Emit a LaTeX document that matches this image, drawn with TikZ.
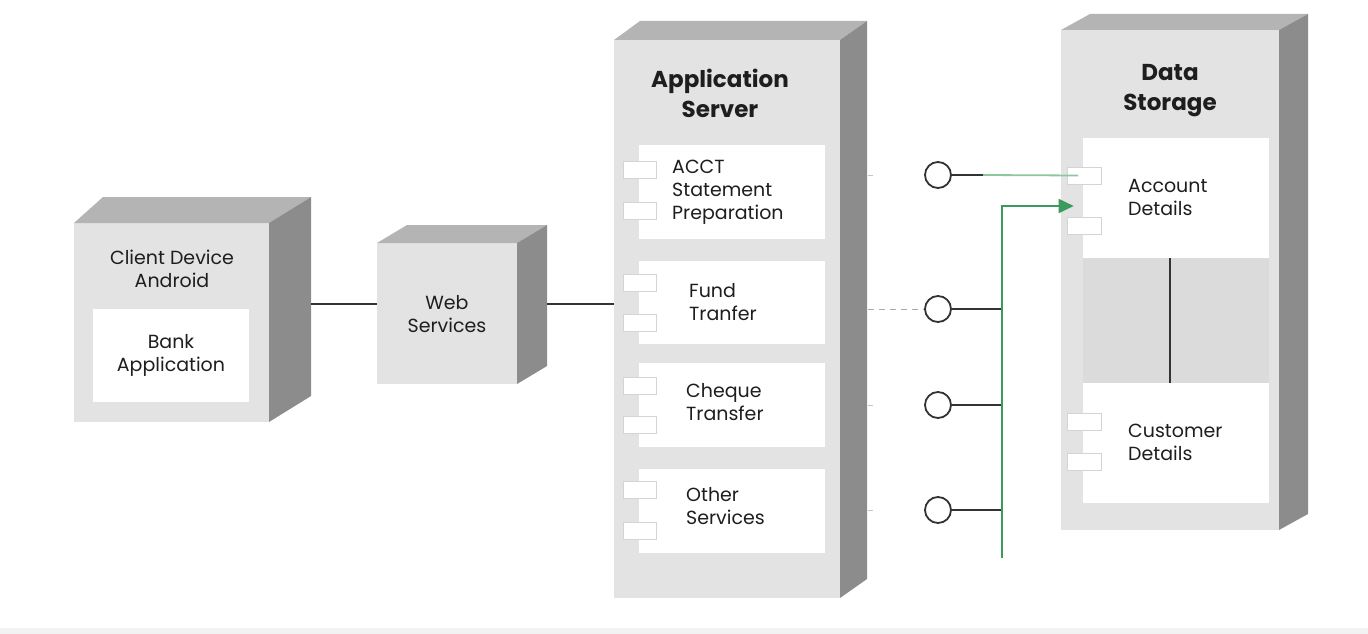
\documentclass[tikz,border=0pt]{standalone}
\usepackage{fontspec}
\setmainfont{Poppins}
\usetikzlibrary{calc,arrows.meta}
\definecolor{frontc}{HTML}{E3E3E3}
\definecolor{topc}{HTML}{B4B4B4}
\definecolor{sidec}{HTML}{8C8C8C}
\definecolor{bandc}{HTML}{DBDBDB}
\definecolor{linec}{HTML}{333333}
\definecolor{greenc}{HTML}{3A9B5C}
\definecolor{lgreenc}{HTML}{8CC79E}
\definecolor{txtc}{HTML}{1E1E1E}
\definecolor{portc}{HTML}{D4D4D4}
\definecolor{dashc}{HTML}{AAAAAA}
\newcommand\cubefaces[4]{%
  \fill[topc] (#1.north west) -- ++(#2,-#4) -- ($(#1.north east)+(#3,-#4)$) -- (#1.north east) -- cycle;
  \fill[sidec] (#1.north east) -- ($(#1.north east)+(#3,-#4)$) -- ($(#1.south east)+(#3,-#4)$) -- (#1.south east) -- cycle;
}
\tikzset{
  front/.style={fill=frontc, inner sep=0, outer sep=0, draw=none},
  innerbox/.style={fill=white, inner sep=0, outer sep=0, draw=none},
  port/.style={fill=white, draw=portc, line width=0.6pt, minimum width=33, minimum height=17, inner sep=0},
  lbl/.style={text=txtc, font=\fontsize{19}{23}\selectfont, inner sep=0},
  ttl/.style={text=txtc, font=\fontsize{23}{30}\selectfont\bfseries, inner sep=0, align=center},
  conn/.style={draw=linec, line width=1.8pt},
  iface/.style={circle, draw=linec, line width=1.8pt, fill=white, minimum size=26, inner sep=0},
  grn/.style={draw=greenc, line width=1.8pt},
}
\begin{document}
\begin{tikzpicture}[x=1pt, y=-1pt]
\useasboundingbox (0,0) rectangle (1368,634);
\fill[white] (0,0) rectangle (1368,634);
\fill[black!5] (0,628) rectangle (1368,634);

% ---------- cubes (front faces) ----------
\node[front, minimum width=195, minimum height=199] (client) at (171.5,322.5) {};
\cubefaces{client}{29}{42}{26}
\node[front, minimum width=140, minimum height=141] (web) at (447,313.5) {};
\cubefaces{web}{30}{30}{18}
\node[front, minimum width=226, minimum height=558] (app) at (727,319) {};
\cubefaces{app}{26}{27}{19}
\node[front, minimum width=218, minimum height=500] (data) at (1170,280) {};
\cubefaces{data}{29}{29}{16}

% ---------- client ----------
\node[lbl, align=center] (clientT) at (172,269) {Client Device\\Android};
\node[innerbox, minimum width=156, minimum height=93] (bank) at (171,355.5) {};
\node[lbl, align=center] (bankT) at (bank.center) {Bank\\Application};

% ---------- web ----------
\node[lbl, align=center] (webT) at (447,314) {Web\\Services};

% ---------- application server ----------
\node[ttl] (appT) at (720,93) {Application\\Server};
\node[innerbox, minimum width=186, minimum height=94] (acct) at (732,192) {};
\node[innerbox, minimum width=186, minimum height=83] (fund) at (732,302.5) {};
\node[innerbox, minimum width=186, minimum height=84] (cheque) at (732,405) {};
\node[innerbox, minimum width=186, minimum height=84] (other) at (732,511) {};
\node[port] (p1a) at (639.5,170) {};
\node[port] (p1b) at (639.5,210.5) {};
\node[port] (p2a) at (639.5,282.5) {};
\node[port] (p2b) at (639.5,322.5) {};
\node[port] (p3a) at (639.5,385.5) {};
\node[port] (p3b) at (639.5,425) {};
\node[port] (p4a) at (639.5,490) {};
\node[port] (p4b) at (639.5,530.5) {};
\node[lbl, align=left, anchor=west] (acctT) at (672,192) {ACCT\\Statement\\Preparation};
\node[lbl, align=left, anchor=west] (fundT) at (689,302) {Fund\\Tranfer};
\node[lbl, align=left, anchor=west] (chequeT) at (686,402) {Cheque\\Transfer};
\node[lbl, align=left, anchor=west] (otherT) at (686,506) {Other\\Services};

% ---------- data storage ----------
\node[ttl] (dataT) at (1170,91) {Data\\Storage};
\node[innerbox, fill=bandc, minimum width=186, minimum height=125] (band) at (1176,320.5) {};
\node[innerbox, minimum width=186, minimum height=120] (account) at (1176,198) {};
\node[innerbox, minimum width=186, minimum height=120] (customer) at (1176,443) {};
\node[port, minimum width=34] (q1a) at (1084,175.5) {};
\node[port, minimum width=34] (q1b) at (1084,225.5) {};
\node[port, minimum width=34] (q2a) at (1084,421.5) {};
\node[port, minimum width=34] (q2b) at (1084,462) {};
\node[lbl, align=left, anchor=west] (accountT) at (1128,198) {Account\\Details};
\node[lbl, align=left, anchor=west] (customerT) at (1128,442) {Customer\\Details};
\coordinate (vl) at (1170,0);
\draw[conn] (account.south -| vl) -- (customer.north -| vl);

% ---------- connectors left ----------
\coordinate (cside) at (311,304);
\coordinate (wside) at (547,304);
\draw[conn] (cside) -- (cside -| web.west);
\draw[conn] (wside) -- (wside -| app.west);

% ---------- interfaces ----------
\node[iface] (i1) at (938,175) {};
\node[iface] (i2) at (938,309) {};
\node[iface] (i3) at (938,405) {};
\node[iface] (i4) at (938,510) {};
\coordinate (sx) at (868,0);
\draw[dashc, line width=1pt, dash pattern=on 6pt off 5pt] (i2.west -| sx) -- (i2.west);
\foreach \n in {i1,i3,i4}{\draw[dashc!70, line width=1pt] (\n.west -| sx) -- ++(5,0);}

\coordinate (gx) at (1002,0);
\coordinate (gbot) at (1002,558);
\coordinate (mix) at (983,0);
\draw[conn] (i2.east) -- (i2.east -| gx);
\draw[conn] (i3.east) -- (i3.east -| gx);
\draw[conn] (i4.east) -- (i4.east -| gx);
\draw[conn] (i1.east) -- (i1.east -| mix);
\draw[draw=lgreenc, line width=1.8pt] (i1.east -| mix) -- ($(q1a.center)+(-6,0)$);
\coordinate (gtop) at (1002,206);
\draw[grn, -{Triangle[length=15pt,width=14pt]}] (gbot) -- (gtop) -- ($(gtop -| q1b.west)+(7,0)$);
\end{tikzpicture}
\end{document}
